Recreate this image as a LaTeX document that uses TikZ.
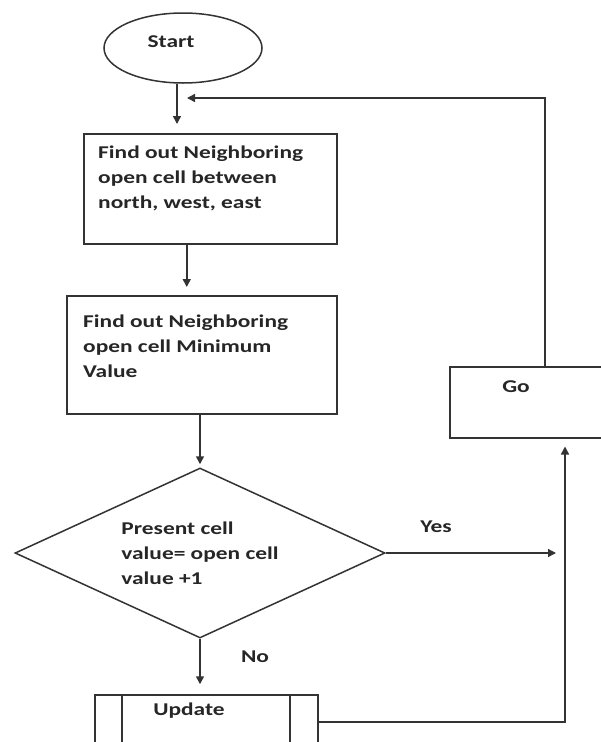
\documentclass[tikz,border=0pt]{standalone}
\usepackage{fontspec}
\setmainfont[FakeStretch=1.3]{Carlito}
\usetikzlibrary{shapes.geometric,arrows.meta,positioning}

\tikzset{
  flow/.style={draw=black!80, line width=1.5pt},
  box/.style={flow, rectangle, inner sep=0pt, anchor=north west},
  txt/.style={font=\bfseries\fontsize{18}{25}\selectfont, text=black!85, inner sep=0pt, align=left},
  link/.style={draw=black!80, line width=1.5pt, -{Triangle[length=8pt,width=8pt]}}
}

\begin{document}
\begin{tikzpicture}[x=1pt,y=-1pt]
 \useasboundingbox (0,0) rectangle (601,742);
 \clip (0,0) rectangle (601,742);

 % steps
 \node[flow, ellipse, minimum width=158, minimum height=70] (start) at (183,48) {};
 \node[txt] (starttxt) at (171,42) {Start};
 \node[box, minimum width=253, minimum height=110] (find1) at (83,133) {};
 \node[txt, anchor=north west] (find1txt) at (98,146) {Find out Neighboring\\open cell between\\north, west, east};
 \node[box, minimum width=270, minimum height=118] (find2) at (66,295) {};
 \node[txt, anchor=north west] (find2txt) at (83,315) {Find out Neighboring\\open cell Minimum\\Value};
 \node[flow, diamond, aspect=2.2, minimum width=370, minimum height=170, txt] (test) at (200,553) {Present cell\\value= open cell\\value +1};
 \node[box, minimum width=172, minimum height=71] (go) at (449,366) {};
 \node[txt] (gotxt) at (516,387) {Go};
 \node[flow, rectangle, inner sep=0pt, minimum width=223, minimum height=54,
   path picture={
     \draw[flow] ([xshift=27pt]path picture bounding box.north west) -- ([xshift=27pt]path picture bounding box.south west);
     \draw[flow] ([xshift=-28pt]path picture bounding box.north east) -- ([xshift=-28pt]path picture bounding box.south east);
   }] (upd) at (206.5,722) {};
 \node[txt] (updtxt) at (189,711) {Update};

 % answers
 \node[txt] (yes) at (436,527) {Yes};
 \node[txt] (no) at (255,657) {No};

 \coordinate (backin) at (187,98);
 \coordinate (goin) at ([xshift=116pt]go.south west);

 % connectors
 \draw[link, shorten >=9pt] ([xshift=-6pt]start.south) -- ([xshift=-6pt]start.south |- find1.north);
 \draw[link, shorten >=8pt] ([xshift=-23.5pt]find1.south) -- ([xshift=-23.5pt]find1.south |- find2.north);
 \draw[link, shorten >=3pt] (test.north |- find2.south) -- (test.north);
 \draw[link, shorten >=10pt] (test.south) -- (test.south |- upd.north);
 \draw[link, shorten >=9pt] (test.east) -- (test.east -| goin);
 \draw[link, shorten >=8pt] (upd.east) -| (goin);
 \draw[link] ([xshift=96pt]go.north west) |- (backin);
\end{tikzpicture}
\end{document}
